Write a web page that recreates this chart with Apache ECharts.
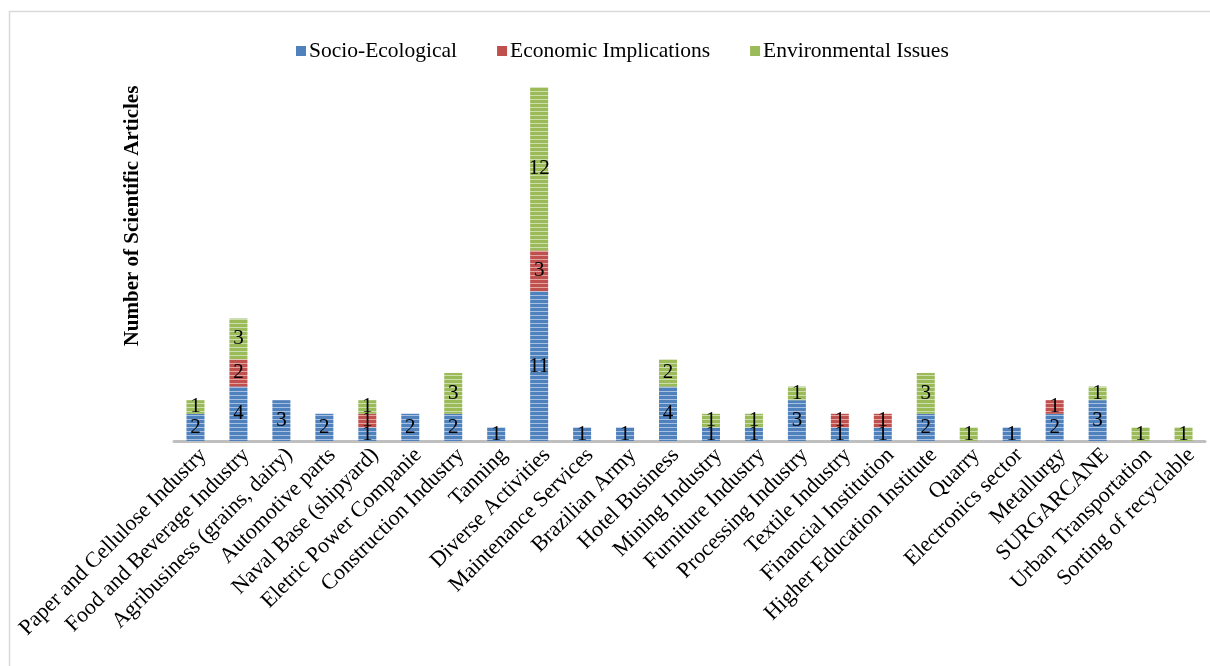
<!DOCTYPE html>
<html>
<head>
<meta charset="utf-8">
<script src="https://cdn.jsdelivr.net/npm/echarts@6/dist/echarts.min.js"></script>
<style>
  html, body { margin: 0; padding: 0; background: #fff; }
  #chart { width: 1210px; height: 666px; }
</style>
</head>
<body>
<div id="chart"></div>
<script>
const categories = [
  'Paper and Cellulose Industry', 'Food and Beverage Industry', 'Agribusiness (grains, dairy)',
  'Automotive parts', 'Naval Base (shipyard)', 'Eletric Power Companie', 'Construction Industry',
  'Tanning', 'Diverse Activities', 'Maintenance Services', 'Brazilian Army', 'Hotel Business',
  'Mining Industry', 'Furniture Industry', 'Processing Industry', 'Textile Industry',
  'Financial Institution', 'Higher Education Institute', 'Quarry', 'Electronics sector',
  'Metallurgy', 'SURGARCANE', 'Urban Transportation', 'Sorting of recyclable'
];
// null = no segment
const socioEcological = [2, 4, 3, 2, 1, 2, 2, 1, 11, 1, 1, 4, 1, 1, 3, 1, 1, 2, null, 1, 2, 3, null, null];
const economicImplications = [null, 2, null, null, 1, null, null, null, 3, null, null, null, null, null, null, 1, 1, null, null, null, 1, null, null, null];
const environmentalIssues = [1, 3, null, null, 1, null, 3, null, 12, null, null, 2, 1, 1, 1, null, null, 3, 1, null, null, 1, 1, 1];

const serif = '"Liberation Serif", "DejaVu Serif", serif';

// horizontal stripe fill like the original
function stripes(base, light) {
  const c = document.createElement('canvas');
  c.width = 4; c.height = 4;
  const ctx = c.getContext('2d');
  ctx.fillStyle = base;
  ctx.fillRect(0, 0, 4, 4);
  ctx.fillStyle = light;
  ctx.fillRect(0, 3, 4, 1);
  return { image: c, repeat: 'repeat' };
}

const colors = {
  blue: '#4F81BD',
  red: '#C0504D',
  green: '#9BBB59'
};

const chart = echarts.init(document.getElementById('chart'));

const segLabel = {
  show: true,
  position: 'inside',
  color: '#000',
  fontFamily: serif,
  fontSize: 21
};

function makeSeries(name, data, base, light) {
  return {
    name: name,
    type: 'bar',
    stack: 'total',
    barWidth: 18,
    data: data,
    itemStyle: { color: stripes(base, light) },
    label: segLabel
  };
}

chart.setOption({
  animation: false,
  backgroundColor: '#fff',
  legend: {
    top: 35,
    left: 291,
    itemWidth: 10,
    itemHeight: 10,
    itemGap: 40,
    textStyle: { fontFamily: serif, fontSize: 21.5, color: '#000', padding: [0, 0, 0, -2] },
    data: [
      { name: 'Socio-Ecological', icon: 'rect', itemStyle: { color: colors.blue } },
      { name: 'Economic Implications', icon: 'rect', itemStyle: { color: colors.red } },
      { name: 'Environmental Issues', icon: 'rect', itemStyle: { color: colors.green } }
    ]
  },
  grid: { left: 174, right: 5, top: 60, bottom: 225, containLabel: false },
  xAxis: {
    type: 'category',
    data: categories,
    axisLine: { lineStyle: { color: '#BFBFBF', width: 3 } },
    axisTick: { show: false },
    axisLabel: {
      interval: 0,
      rotate: 45,
      margin: 3,
      verticalAlign: 'top',
      color: '#000',
      fontFamily: serif,
      fontSize: 22
    }
  },
  yAxis: {
    type: 'value',
    min: 0,
    max: 28,
    show: false
  },
  series: [
    makeSeries('Socio-Ecological', socioEcological, colors.blue, '#A7BFE0'),
    makeSeries('Economic Implications', economicImplications, colors.red, '#E2A3A1'),
    makeSeries('Environmental Issues', environmentalIssues, colors.green, '#CCDDAE')
  ],
  graphic: [{
    type: 'rect',
    shape: { x: 9.5, y: 11.5, width: 1300, height: 700 },
    style: { fill: 'none', stroke: '#D9D9D9', lineWidth: 1.5 },
    silent: true
  }, {
    // y axis title (axis itself is hidden)
    type: 'text',
    x: 133,
    y: 216,
    rotation: Math.PI / 2,
    style: {
      text: 'Number of Scientific Articles',
      fontFamily: serif,
      fontSize: 21,
      fontWeight: 'bold',
      fill: '#000',
      align: 'center',
      verticalAlign: 'middle'
    }
  }]
});
</script>
</body>
</html>
